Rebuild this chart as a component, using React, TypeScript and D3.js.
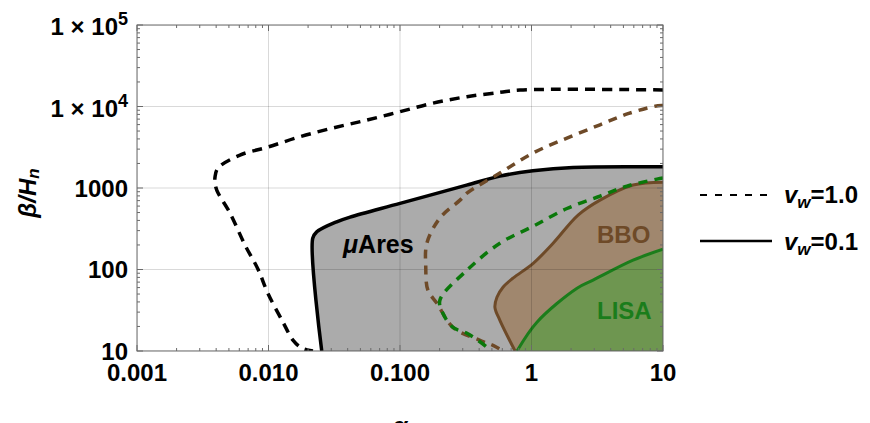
import React from "react";
import * as d3 from "d3";

// alpha / (beta/H_n) points
const muAresEdge: [number, number][] = [
  [0.0254, 10], [0.0217, 242], [0.0233, 290], [0.033, 385], [0.0417, 439],
  [0.1, 647], [0.321, 1086], [0.575, 1400], [1.026, 1626], [2.07, 1790], [10, 1820],
];
const bboEdge: [number, number][] = [
  [0.75, 10], [0.575, 23.8], [0.527, 34.4], [0.546, 45.7], [0.607, 60.7], [0.723, 78.2],
  [1.03, 119], [1.46, 210], [2.26, 465], [3.32, 710], [5.92, 1087], [10, 1180],
];
const lisaEdge: [number, number][] = [
  [0.776, 10], [1.1, 22.6], [2.22, 58.9], [2.94, 74], [5.92, 130], [10, 177],
];
const muAresFast: [number, number][] = [
  [10, 15950], [0.818, 15950], [0.575, 14900], [0.323, 13200], [0.178, 11000], [0.1, 8630],
  [0.0561, 6820], [0.0309, 5450], [0.0174, 4260], [0.0099, 3180], [0.00607, 2535],
  [0.00413, 1755], [0.00392, 1360], [0.00392, 1180], [0.00404, 942], [0.0051, 492],
  [0.00663, 199], [0.00832, 101], [0.0099, 51], [0.0129, 22.5], [0.0154, 13.5],
  [0.018, 10.8], [0.0218, 10],
];
const bboFast: [number, number][] = [
  [10, 10300], [9.16, 10230], [5.42, 8170], [3.32, 5970], [1.86, 4100], [1.03, 2690],
  [0.575, 1525], [0.323, 865], [0.286, 710], [0.201, 427], [0.16, 210], [0.157, 107],
  [0.163, 55.7], [0.191, 38.5], [0.253, 19.5], [0.406, 13.5], [0.51, 11.7], [0.607, 10],
];
const lisaFast: [number, number][] = [
  [10, 1325], [9.0, 1285], [5.32, 1055], [3.32, 795], [1.86, 560], [1.03, 340],
  [0.575, 210], [0.323, 98], [0.201, 42], [0.212, 29], [0.253, 19.5],
  [0.323, 16.5], [0.459, 11.1], [0.485, 10],
];

const xTicks = [0.001, 0.01, 0.1, 1, 10];
const xTickLabels = ["0.001", "0.010", "0.100", "1", "10"];
const yTicks = [10, 100, 1000, 1e4, 1e5];
const yTickLabels = ["10", "100", "1000", "1 \u00d7 10|4", "1 \u00d7 10|5"];

const W = 870, H = 423;
const left = 137, right = 663, top = 25, bottom = 351;
const font = "'Liberation Sans', Arial, sans-serif";
const frameColor = "#6a6a6a";

const App = () => {
  const x = d3.scaleLog().domain([0.001, 10]).range([left, right]);
  const y = d3.scaleLog().domain([10, 1e5]).range([bottom, top]);
  const line = d3
    .line<[number, number]>()
    .x((d) => x(d[0]))
    .y((d) => y(d[1]))
    .curve(d3.curveCatmullRom.alpha(0.5));

  // minor ticks 2..9 per decade
  const minorX: number[] = [];
  for (let e = -3; e < 1; e++) for (let k = 2; k <= 9; k++) minorX.push(k * 10 ** e);
  const minorY: number[] = [];
  for (let e = 1; e < 5; e++) for (let k = 2; k <= 9; k++) minorY.push(k * 10 ** e);

  // close a boundary curve along the right and bottom frame
  const region = (pts: [number, number][]) =>
    line(pts)! + `L${x(10) + 4},${y(pts[pts.length - 1][1])}L${x(10) + 4},${bottom + 4}L${x(pts[0][0])},${bottom + 4}Z`;

  return (
    <svg width={W} height={H} style={{ position: "absolute", left: 0, top: 0 }} fontFamily={font}>
      <defs>
        <clipPath id="plot">
          <rect x={left} y={top} width={right - left} height={bottom - top} />
        </clipPath>
      </defs>
      <rect width={W} height={H} fill="#fff" />

      <g clipPath="url(#plot)">
        {/* filled regions, v_w = 0.1 */}
        <path d={region(muAresEdge)} fill="#ababab" />
        <path d={line(muAresEdge)!} fill="none" stroke="#000" strokeWidth={3.5} />
        <path d={region(bboEdge)} fill="#a0876e" />
        <path d={line(bboEdge)!} fill="none" stroke="#6e4a28" strokeWidth={3} />
        <path d={region(lisaEdge)} fill="#6e9650" />
        <path d={line(lisaEdge)!} fill="none" stroke="#1b7d1b" strokeWidth={3} />

        {/* grid */}
        {xTicks.map((t) => (
          <line key={"gx" + t} x1={x(t)} x2={x(t)} y1={top} y2={bottom} stroke="#000" strokeOpacity={0.15} />
        ))}
        {yTicks.map((t) => (
          <line key={"gy" + t} x1={left} x2={right} y1={y(t)} y2={y(t)} stroke="#000" strokeOpacity={0.15} />
        ))}

        {/* dashed, v_w = 1.0 */}
        <path d={line(muAresFast)!} fill="none" stroke="#000" strokeWidth={3.5} strokeDasharray="10,7" />
        <path d={line(bboFast)!} fill="none" stroke="#6e4a28" strokeWidth={3.5} strokeDasharray="9,7" />
        <path d={line(lisaFast)!} fill="none" stroke="#0a780a" strokeWidth={3.5} strokeDasharray="9,7" />
      </g>

      {/* frame and ticks */}
      <rect x={left} y={top} width={right - left} height={bottom - top} fill="none" stroke={frameColor} strokeWidth={1} />
      {xTicks.map((t) => (
        <g key={"tx" + t} stroke={frameColor}>
          <line x1={x(t)} x2={x(t)} y1={bottom} y2={bottom - 6} />
          <line x1={x(t)} x2={x(t)} y1={top} y2={top + 6} />
        </g>
      ))}
      {minorX.map((t) => (
        <g key={"mx" + t} stroke={frameColor}>
          <line x1={x(t)} x2={x(t)} y1={bottom} y2={bottom - 3} />
          <line x1={x(t)} x2={x(t)} y1={top} y2={top + 3} />
        </g>
      ))}
      {yTicks.map((t) => (
        <g key={"ty" + t} stroke={frameColor}>
          <line x1={left} x2={left + 6} y1={y(t)} y2={y(t)} />
          <line x1={right} x2={right - 6} y1={y(t)} y2={y(t)} />
        </g>
      ))}
      {minorY.map((t) => (
        <g key={"my" + t} stroke={frameColor}>
          <line x1={left} x2={left + 3} y1={y(t)} y2={y(t)} />
          <line x1={right} x2={right - 3} y1={y(t)} y2={y(t)} />
        </g>
      ))}

      {/* tick labels */}
      {xTicks.map((t, i) => (
        <text key={"lx" + t} x={x(t)} y={381} textAnchor="middle" fontSize={24} fontWeight="bold">
          {xTickLabels[i]}
        </text>
      ))}
      {yTicks.map((t, i) => {
        const [base, sup] = yTickLabels[i].split("|");
        return (
          <text key={"ly" + t} x={128} y={y(t) + (sup ? 10 : 8.5)} textAnchor="end" fontSize={24} fontWeight="bold">
            {base}
            {sup && <tspan fontSize={18} dy={-10}>{sup}</tspan>}
          </text>
        );
      })}

      {/* axis titles */}
      <text transform="translate(36,193) rotate(-90)" textAnchor="middle" fontSize={24} fontWeight="bold" fontStyle="italic">
        β/H<tspan fontSize={17} dy={3}>n</tspan>
      </text>
      <text x={(left + right) / 2} y={434} textAnchor="middle" fontSize={24} fontWeight="bold" fontStyle="italic">
        α
      </text>

      {/* region labels */}
      <text x={343} y={253} fontSize={25} fontWeight="bold" fill="#000">
        <tspan fontStyle="italic">μ</tspan>Ares
      </text>
      <text x={597} y={243} fontSize={24} fontWeight="bold" fill="#6e4a28">BBO</text>
      <text x={597} y={319} fontSize={24} fontWeight="bold" fill="#1b7d1b">LISA</text>

      {/* legend */}
      <line x1={700} x2={768} y1={195} y2={195} stroke="#000" strokeWidth={2} strokeDasharray="7,8" />
      <text x={784} y={203} fontSize={24} fontWeight="bold">
        <tspan fontStyle="italic">v</tspan>
        <tspan fontStyle="italic" fontSize={17} dy={5}>w</tspan>
        <tspan dy={-5}>=1.0</tspan>
      </text>
      <line x1={700} x2={772} y1={241} y2={241} stroke="#000" strokeWidth={2.5} />
      <text x={784} y={250} fontSize={24} fontWeight="bold">
        <tspan fontStyle="italic">v</tspan>
        <tspan fontStyle="italic" fontSize={17} dy={5}>w</tspan>
        <tspan dy={-5}>=0.1</tspan>
      </text>
    </svg>
  );
};

export default App;
